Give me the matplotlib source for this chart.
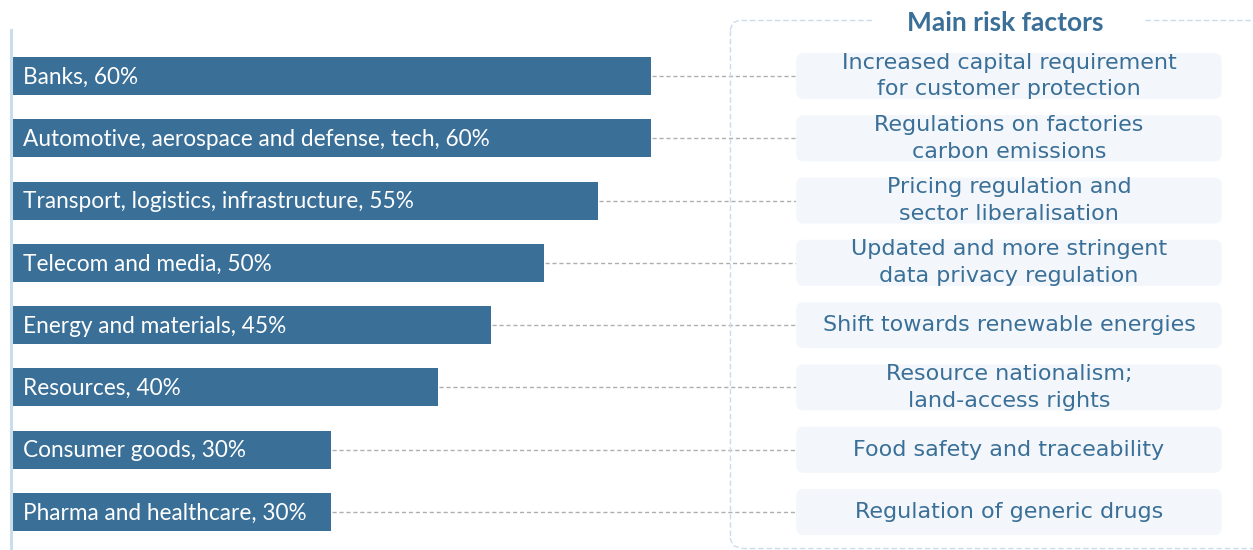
import matplotlib.pyplot as plt
from matplotlib.patches import FancyBboxPatch

# sectors, share (%) and the regulatory risk attached to each
sectors = ["Banks", "Automotive, aerospace and defense, tech",
           "Transport, logistics, infrastructure", "Telecom and media",
           "Energy and materials", "Resources", "Consumer goods",
           "Pharma and healthcare"]
shares = [60, 60, 55, 50, 45, 40, 30, 30]
risks = ["Increased capital requirement\nfor customer protection",
         "Regulations on factories\ncarbon emissions",
         "Pricing regulation and\nsector liberalisation",
         "Updated and more stringent\ndata privacy regulation",
         "Shift towards renewable energies",
         "Resource nationalism;\nland-access rights",
         "Food safety and traceability",
         "Regulation of generic drugs"]
title = "Main risk factors"

bar_col = "#3A6F97"
txt_col = "#3A6F97"
box_fill = "#F3F7FB"
frame_col = "#C9DDEC"

fig = plt.figure(figsize=(12.53, 5.5), dpi=100)
ax = fig.add_axes([0, 0, 1, 1])
# 1 % = 10.67 px, one row = 62.3 px
ax.set_xlim(-0.94, 116.53)
ax.set_ylim(7.61, -1.22)
ax.axis("off")

rows = range(len(sectors))
ax.barh(rows, shares, height=0.61, left=0.1, color=bar_col, zorder=3)

box_x0, box_x1 = 73.7, 113.6
asp = 10.67 / 62.3
for i, (s, v, r) in enumerate(zip(sectors, shares, risks)):
    ax.text(1.2, i + 0.02, f"{s}, {v}%", color="white", va="center",
            ha="left", fontsize=16.3, family="Lato", zorder=4)
    ax.plot([v + 0.2, box_x0], [i, i], color="#AFAFAF", lw=1,
            ls=(0, (3, 2)), zorder=1)
    box = FancyBboxPatch((box_x0, i - 0.37), box_x1 - box_x0, 0.74,
                         boxstyle="round,pad=0,rounding_size=0.7",
                         mutation_aspect=asp, fc=box_fill, ec="none",
                         zorder=2)
    ax.add_patch(box)
    ax.text((box_x0 + box_x1) / 2, i, r, color=txt_col, ha="center",
            va="center", fontsize=16, family="DejaVu Sans",
            linespacing=1.42, zorder=3)

# light vertical axis line on the left
ax.plot([0.05, 0.05], [-0.74, 7.61], color=frame_col, lw=2.2, zorder=5)

# dashed frame around the risk column, broken by the title
fx0, fy0, fx1, fy1 = 67.5, -0.9, 117.5, 7.58
frame = dict(color=frame_col, lw=1, ls=(0, (4, 2)), zorder=1)
ax.plot([fx0, fx0], [fy0 + 0.16, fy1 - 0.16], **frame)
ax.plot([fx0 + 1.0, fx1], [fy1, fy1], **frame)
ax.plot([fx0 + 1.0, 80.9], [fy0, fy0], **frame)
ax.plot([106.4, fx1], [fy0, fy0], **frame)
ax.plot([fx0, fx0 + 0.3, fx0 + 1.0], [fy0 + 0.16, fy0 + 0.04, fy0], **frame)
ax.plot([fx0, fx0 + 0.3, fx0 + 1.0], [fy1 - 0.16, fy1 - 0.04, fy1], **frame)

ax.text((box_x0 + box_x1) / 2 - 0.3, fy0 + 0.05, title, color=txt_col,
        ha="center", va="center", fontsize=19, family="Lato",
        fontweight="bold")

fig.savefig("out.png", dpi=100)
